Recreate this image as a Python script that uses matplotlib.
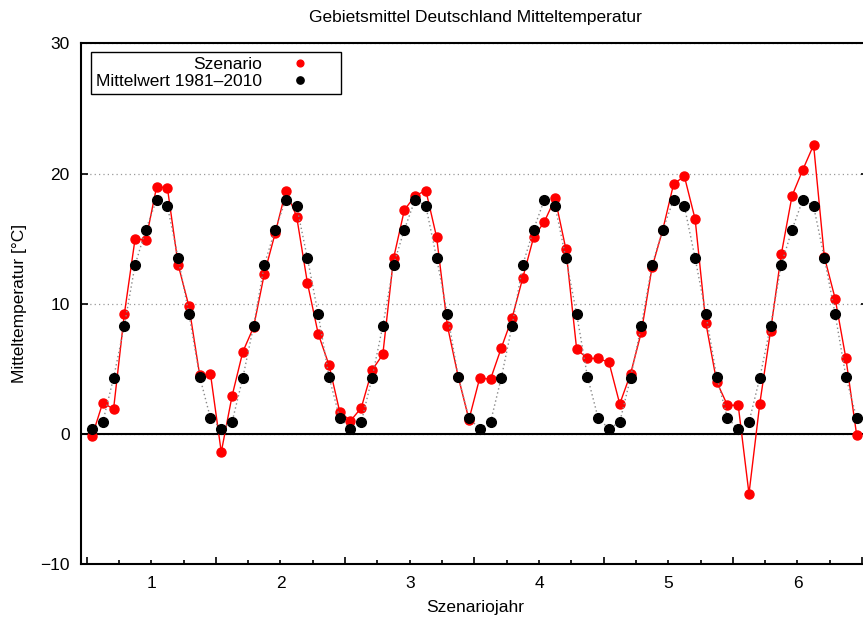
# -*- coding:utf-8 -*-
# Gebietsmittel Deutschland: Szenario vs. Mittelwert 1981-2010

import matplotlib
matplotlib.use("Agg")
import matplotlib.pyplot as plt
from matplotlib.ticker import FixedLocator, FuncFormatter

plt.rcParams["font.family"] = ["Liberation Sans", "DejaVu Sans"]
plt.rcParams["axes.unicode_minus"] = True

# Monatswerte des Szenarios (6 Jahre, Jan..Dez)
szenario = [
    -0.2, 2.4, 1.9, 9.2, 15.0, 14.9, 19.0, 18.9, 13.0, 9.8, 4.5, 4.6,
    -1.4, 2.9, 6.3, 8.2, 12.3, 15.4, 18.7, 16.7, 11.6, 7.7, 5.3, 1.7,
    1.0, 2.0, 4.9, 6.1, 13.5, 17.2, 18.3, 18.7, 15.1, 8.3, 4.4, 1.1,
    4.3, 4.2, 6.6, 8.9, 12.0, 15.1, 16.3, 18.1, 14.2, 6.5, 5.8, 5.8,
    5.5, 2.3, 4.6, 7.8, 12.8, 15.7, 19.2, 19.8, 16.5, 8.5, 4.0, 2.2,
    2.2, -4.6, 2.3, 7.9, 13.8, 18.3, 20.3, 22.2, 13.6, 10.4, 5.8, -0.1,
]
# Monatsmittel 1981-2010 (Jan..Dez), jedes Jahr gleich
mittel_monat = [0.4, 0.9, 4.3, 8.3, 13.0, 15.7, 18.0, 17.5, 13.5, 9.2, 4.4, 1.2]
mittelwert = mittel_monat * 6

jahre = [1, 2, 3, 4, 5, 6]
y_ticks = [-10, 0, 10, 20, 30]

# Monatsmitte auf der Jahresachse
x = [0.5 + (i + 0.5) / 12.0 for i in range(len(szenario))]

fig = plt.figure(figsize=(8.63, 6.17), dpi=100)
ax = fig.add_axes([0.0935, 0.0859, 0.9123, 0.8436])

ax.plot(x, szenario, color="#ff0000", lw=1.0, marker="o", ms=6.5,
        mec="#ff0000", mfc="#ff0000", label="Szenario", zorder=3)
ax.plot(x, mittelwert, color="#888888", lw=1.0, ls=(0, (1, 2)),
        marker="o", ms=7.0, mec="black", mfc="black",
        label="Mittelwert 1981\u20132010", zorder=4)

ax.axhline(0, color="black", lw=1.5, zorder=2)

ax.set_xlim(0.454, 6.546)
ax.set_ylim(-10, 30)

# y-Achse: Ticks links und rechts nach innen, gepunktetes Gitter
ax.set_yticks(y_ticks)
ax.yaxis.grid(True, color="#999999", ls=(0, (1, 2.5)), lw=0.9)
ax.set_axisbelow(True)
ax.tick_params(axis="y", direction="in", length=5, width=1.2,
               left=True, right=True, labelsize=12.5, pad=8)

# x-Achse: lange Ticks an Jahresgrenzen, kurze alle Vierteljahre, Beschriftung bei ganzen Jahren
halbe = [j - 0.5 for j in jahre] + [6.5]
viertel = [0.75 + 0.25 * k for k in range(23) if (0.75 + 0.25 * k) % 1.0 != 0.5]
ax.xaxis.set_major_locator(FixedLocator(halbe))
ax.xaxis.set_minor_locator(FixedLocator(viertel))
ax.xaxis.set_major_formatter(FuncFormatter(lambda v, p: ""))
ax.xaxis.set_minor_formatter(
    FuncFormatter(lambda v, p: "%d" % round(v) if abs(v - round(v)) < 1e-6 else ""))
ax.tick_params(axis="x", which="major", direction="in", length=5, width=1.2,
               top=False)
ax.tick_params(axis="x", which="minor", direction="in", length=3, width=1.2,
               top=False, labelsize=12.5, pad=9)

for s in ax.spines.values():
    s.set_linewidth(1.5)

leg = ax.legend(loc="upper left", bbox_to_anchor=(0.0131, 0.9846),
                borderaxespad=0, markerfirst=False, handlelength=4.1,
                handletextpad=0.15, borderpad=0.3, labelspacing=0.1,
                fancybox=False, framealpha=1, edgecolor="black",
                fontsize=12.5, markerscale=0.75)
leg.get_frame().set_linewidth(1.0)
for h in leg.legend_handles:
    h.set_linestyle("None")

fig.text(0.5504, 0.972, "Gebietsmittel Deutschland Mitteltemperatur",
         ha="center", va="center", fontsize=12.5)
fig.text(0.5504, 0.016, "Szenariojahr", ha="center", va="center", fontsize=12.5)
fig.text(0.023, 0.508, "Mitteltemperatur [\u00b0C]", ha="center", va="center",
         rotation=90, fontsize=12.5)

plt.savefig("out.png", dpi=100)
